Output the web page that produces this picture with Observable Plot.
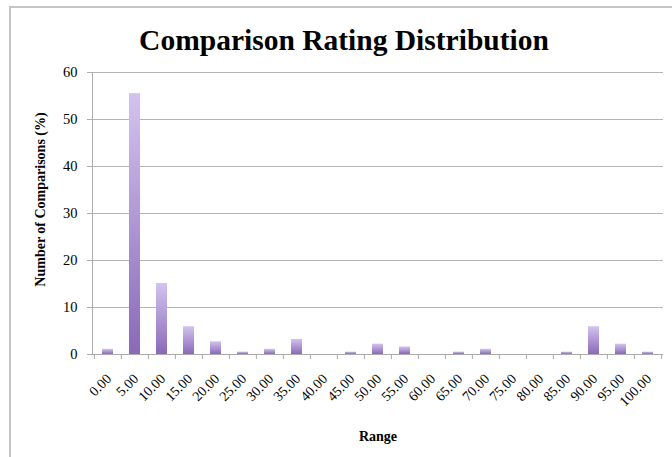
<!DOCTYPE html>
<html>
<head>
<meta charset="utf-8">
<script src="https://cdn.jsdelivr.net/npm/d3@7"></script>
<script src="https://cdn.jsdelivr.net/npm/@observablehq/plot@0.6"></script>
<style>
  html, body { margin: 0; padding: 0; background: #fff; }
  #chart { position: relative; width: 672px; height: 457px; overflow: hidden; background: #fff; }
  #frame { position: absolute; left: 9px; top: 6px; width: 800px; height: 600px;
           border: 2px solid #c4c4c4; box-sizing: border-box; }
  #title { position: absolute; left: 0; width: 688px; top: 26px; margin: 0; text-align: center;
           font-family: "Liberation Serif", serif; font-weight: bold; font-size: 29.5px; line-height: 28px; color: #000; }
  #plot { position: absolute; left: 0; top: 0; }
</style>
</head>
<body>
<div id="chart">
  <div id="frame"></div>
  <h1 id="title">Comparison Rating Distribution</h1>
  <div id="plot"></div>
</div>
<script>
// Rating ranges (bin labels) and the share of comparisons in each, in percent
const categories = ["0.00", "5.00", "10.00", "15.00", "20.00", "25.00", "30.00", "35.00", "40.00", "45.00",
  "50.00", "55.00", "60.00", "65.00", "70.00", "75.00", "80.00", "85.00", "90.00", "95.00", "100.00"];
const percentages = [1.1, 55.5, 15.1, 5.9, 2.7, 0.5, 1.1, 3.2, 0, 0.5,
  2.2, 1.6, 0, 0.5, 1.1, 0, 0, 0.5, 5.9, 2.2, 0.5];
const yTicks = [0, 10, 20, 30, 40, 50, 60];

const data = categories.map((range, i) => ({range, value: percentages[i]}));

const width = 672, height = 457;
const marginLeft = 92, marginRight = 9, marginTop = 72, marginBottom = 103;
const step = (width - marginLeft - marginRight) / categories.length;
const axisGray = "#ababab";

const chart = Plot.plot({
  width, height, marginLeft, marginRight, marginTop, marginBottom,
  style: {fontFamily: "'Liberation Serif', serif", fontSize: "14px", color: "#000", background: "transparent", overflow: "visible"},
  x: {domain: categories, paddingInner: 0.58, paddingOuter: 0.29, label: null},
  y: {domain: [0, 60], ticks: yTicks, label: null},
  marks: [
    Plot.gridY(yTicks, {stroke: "#b5b5b5", strokeOpacity: 1}),
    Plot.frame({anchor: "left", stroke: axisGray}),
    Plot.axisY({ticks: yTicks, tickSize: 5, tickPadding: 10, stroke: axisGray, label: null, fontSize: 14.5}),
    Plot.barY(data, {x: "range", y: "value", fill: "url(#barFill)"}),
    Plot.ruleY([0], {stroke: axisGray}),
    // tick marks sit on the boundaries between ranges
    Plot.axisX({tickSize: 5, tickFormat: () => "", dx: -step / 2, stroke: axisGray, label: null}),
    Plot.axisX({ticks: [categories[categories.length - 1]], tickSize: 5, tickFormat: () => "", dx: step / 2, stroke: axisGray, label: null}),
    Plot.axisX({tickSize: 0, tickRotate: -45, tickPadding: 10, dx: 1, dy: 12, label: null}),
    Plot.text(["Range"], {frameAnchor: "bottom", dy: 86, fontWeight: "bold"}),
    Plot.text(["Number of Comparisons (%)"], {frameAnchor: "left", textAnchor: "middle", rotate: -90, dx: -52, dy: -14, fontWeight: "bold"})
  ]
});

// vertical light-to-dark lavender fill shared by every bar
const defs = d3.select(chart).insert("defs", ":first-child");
const grad = defs.append("linearGradient").attr("id", "barFill")
  .attr("x1", 0).attr("y1", 0).attr("x2", 0).attr("y2", 1);
grad.append("stop").attr("offset", "0%").attr("stop-color", "#d3c3ef");
grad.append("stop").attr("offset", "100%").attr("stop-color", "#8a69b8");

document.getElementById("plot").appendChild(chart);
</script>
</body>
</html>
